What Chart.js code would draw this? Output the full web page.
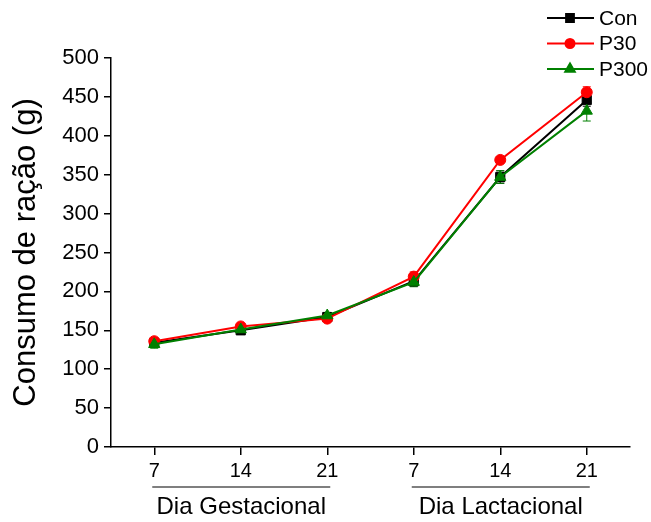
<!DOCTYPE html>
<html>
<head>
<meta charset="utf-8">
<script src="https://cdn.jsdelivr.net/npm/chart.js@4.4.1/dist/chart.umd.min.js"></script>
<style>
  html, body { margin: 0; padding: 0; background: #fff; }
  #wrap { width: 651px; height: 522px; }
</style>
</head>
<body>
<div id="wrap"><canvas id="chart" width="651" height="522"></canvas></div>
<script>
// --- dados ---
const dayLabels = ["7", "14", "21", "7", "14", "21"];
const groupLabels = ["Dia Gestacional", "Dia Lactacional"];
const seriesNames = ["Con", "P30", "P300"];
const conValues = [134, 150, 167, 213, 347, 446];
const p30Values = [136, 155, 165, 219, 369, 456];
const p300Values = [132, 151, 169, 212, 347, 432];
const conErr = [4, 4, 4, 6, 8, 8];
const p30Err = [3, 4, 3, 6, 4, 7];
const p300Err = [5, 4, 4, 6, 8, 13];
const yTicks = [0, 50, 100, 150, 200, 250, 300, 350, 400, 450, 500];

const FONT = "'Liberation Sans', Arial, sans-serif";
const colors = ["#000000", "#ff0000", "#008000"];
const markers = ["rect", "circle", "triangle"];
const radii = [6.5, 5.5, 6.5];
const legendRadii = [5.5, 4.5, 5.5];
const errors = [conErr, p30Err, p300Err];

// barras de erro (desenhadas antes dos pontos)
const errorBars = {
  id: "errorBars",
  beforeDatasetsDraw(chart) {
    const ctx = chart.ctx;
    const x = chart.scales.x, y = chart.scales.y;
    ctx.save();
    chart.data.datasets.forEach((ds, i) => {
      ctx.strokeStyle = ds.borderColor;
      ctx.lineWidth = 1;
      ds.data.forEach((v, j) => {
        const px = x.getPixelForValue(j);
        const top = y.getPixelForValue(v + errors[i][j]);
        const bot = y.getPixelForValue(v - errors[i][j]);
        ctx.beginPath();
        ctx.moveTo(px, top); ctx.lineTo(px, bot);
        ctx.moveTo(px - 4, top); ctx.lineTo(px + 4, top);
        ctx.moveTo(px - 4, bot); ctx.lineTo(px + 4, bot);
        ctx.stroke();
      });
    });
    ctx.restore();
  }
};

// legenda e rótulos de grupo
const extras = {
  id: "extras",
  afterDraw(chart) {
    const ctx = chart.ctx;
    const x = chart.scales.x;
    ctx.save();
    // legenda: linha - marcador - linha + texto
    chart.data.datasets.forEach((ds, i) => {
      const ly = 18 + i * 25.5;
      ctx.strokeStyle = ds.borderColor;
      ctx.lineWidth = 2;
      ctx.beginPath();
      ctx.moveTo(547, ly); ctx.lineTo(594, ly);
      ctx.stroke();
      ctx.fillStyle = ds.borderColor;
      Chart.helpers.drawPoint(ctx, {
        pointStyle: markers[i], radius: legendRadii[i], borderWidth: 1
      }, 570, ly);
      ctx.fillStyle = "#000";
      ctx.font = "21px " + FONT;
      ctx.textAlign = "left";
      ctx.textBaseline = "middle";
      ctx.fillText(ds.label, 599, ly + 1);
    });
    // rótulos dos grupos com linha acima
    groupLabels.forEach((g, k) => {
      const x0 = x.getPixelForValue(k * 3) - 2;
      const x1 = x.getPixelForValue(k * 3 + 2) + 3;
      ctx.strokeStyle = "#555";
      ctx.lineWidth = 1.5;
      ctx.beginPath();
      ctx.moveTo(x0, 487); ctx.lineTo(x1, 487);
      ctx.stroke();
      ctx.fillStyle = "#000";
      ctx.font = "24px " + FONT;
      ctx.textAlign = "center";
      ctx.textBaseline = "middle";
      ctx.fillText(g, (x0 + x1) / 2, 507);
    });
    ctx.restore();
  }
};

const seriesValues = [conValues, p30Values, p300Values];
const datasets = seriesNames.map((name, i) => ({
  label: name,
  data: seriesValues[i],
  borderColor: colors[i],
  backgroundColor: colors[i],
  borderWidth: 2,
  pointStyle: markers[i],
  pointRadius: radii[i],
  pointHoverRadius: radii[i],
  pointBorderWidth: 1,
  tension: 0,
  order: 3 - i
}));

new Chart(document.getElementById("chart"), {
  type: "line",
  data: { labels: dayLabels, datasets: datasets },
  options: {
    responsive: false,
    animation: false,
    layout: { padding: { top: 58, right: 21, left: 0, bottom: 0 } },
    plugins: { legend: { display: false }, tooltip: { enabled: false } },
    scales: {
      x: {
        type: "category",
        offset: true,
        afterFit(s) { s.height = 75; },
        border: { display: true, color: "#000", width: 1.5 },
        grid: { display: true, drawOnChartArea: false, drawTicks: true, tickLength: 8, offset: false, color: "#000", lineWidth: 1.5 },
        ticks: { color: "#000", font: { family: FONT, size: 20 }, padding: 4, autoSkip: false, maxRotation: 0 }
      },
      y: {
        min: 0,
        max: 500,
        afterFit(s) { s.width = 111; },
        afterBuildTicks(s) { s.ticks = yTicks.map(v => ({ value: v })); },
        border: { display: true, color: "#000", width: 1.5 },
        grid: { display: true, drawOnChartArea: false, drawTicks: true, tickLength: 7, color: "#000", lineWidth: 1.5 },
        ticks: { color: "#000", font: { family: FONT, size: 22 }, padding: 5 },
        title: { display: true, text: "Consumo de ração (g)", color: "#000", font: { family: FONT, size: 31 }, padding: { top: 8, bottom: 0 } }
      }
    }
  },
  plugins: [errorBars, extras]
});
</script>
</body>
</html>
